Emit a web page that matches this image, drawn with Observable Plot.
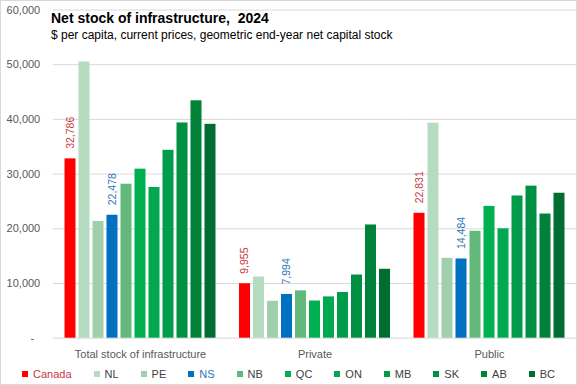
<!DOCTYPE html>
<html>
<head>
<meta charset="utf-8">
<script src="https://cdn.jsdelivr.net/npm/d3@7"></script>
<script src="https://cdn.jsdelivr.net/npm/@observablehq/plot@0.6"></script>
<style>
  html, body { margin: 0; padding: 0; background: #fff; }
  #wrap { position: relative; width: 577px; height: 385px; background: #fff; overflow: hidden; font-family: "Liberation Sans", Arial, sans-serif; }
  #chart { position: absolute; left: 0; top: 0; }
  #title { position: absolute; left: 51px; top: 10px; font: bold 14px "Liberation Sans", Arial, sans-serif; color: #000; white-space: nowrap; }
  #subtitle { position: absolute; left: 51px; top: 28px; font: 12px "Liberation Sans", Arial, sans-serif; color: #000; white-space: nowrap; }
  #legend { position: absolute; left: 22px; top: 368px; display: flex; gap: 22px; font: 11px "Liberation Sans", Arial, sans-serif; white-space: nowrap; }
  #legend .item { display: flex; align-items: center; }
  #legend .sw { width: 6px; height: 6px; margin-right: 5px; }
  #border { position: absolute; left: 0; top: 0; width: 575px; height: 383px; border: 1px solid #d9d9d9; pointer-events: none; }
</style>
</head>
<body>
<div id="wrap">
  <div id="chart"></div>
  <div id="title">Net stock of infrastructure,&nbsp; 2024</div>
  <div id="subtitle">$ per capita, current prices, geometric end-year net capital stock</div>
  <div id="legend"></div>
  <div id="border"></div>
</div>
<script>
const categories = ["Total stock of infrastructure", "Private", "Public"];
const regions = ["Canada", "NL", "PE", "NS", "NB", "QC", "ON", "MB", "SK", "AB", "BC"];
const totalValues   = [32786, 50500, 21350, 22478, 28150, 30900, 27550, 34350, 39350, 43400, 39100];
const privateValues = [9955, 11200, 6750, 7994, 8650, 6800, 7550, 8350, 11550, 20700, 12600];
const publicValues  = [22831, 39300, 14600, 14484, 19550, 24100, 20000, 26000, 27800, 22700, 26500];
const regionColors = ["#ff0000", "#b5dcc0", "#a0cfab", "#0070c0", "#63b87c", "#00b050", "#00a84f", "#009c49", "#009044", "#00823b", "#006d32"];
const labelColors  = ["#c8393c", "#404040", "#404040", "#2e75b6", "#404040", "#404040", "#404040", "#404040", "#404040", "#404040", "#404040"];
const labeledRegions = ["Canada", "NS"];
const yTicks = [0, 10000, 20000, 30000, 40000, 50000, 60000];

const seriesByCategory = [totalValues, privateValues, publicValues];
const data = [];
categories.forEach((cat, ci) => {
  regions.forEach((reg, ri) => {
    data.push({category: cat, region: reg, value: seriesByCategory[ci][ri]});
  });
});
const labelData = data.filter(d => labeledRegions.includes(d.region));
const labelColorOf = Object.fromEntries(regions.map((r, i) => [r, labelColors[i]]));

const fmt = d3.format(",");

const chart = Plot.plot({
  width: 577,
  height: 360,
  marginLeft: 52.75,
  marginRight: 0.75,
  marginTop: 9.5,
  marginBottom: 22.3,
  style: {fontFamily: "'Liberation Sans', Arial, sans-serif", fontSize: "11px", color: "#595959", background: "transparent"},
  fx: {domain: categories, padding: 0, label: null, axis: "bottom", tickSize: 0, tickPadding: 12, round: false},
  x: {domain: regions, axis: null, paddingInner: 0.214, paddingOuter: 0.839, round: false},
  y: {domain: [0, 60000], ticks: yTicks, tickSize: 0, tickPadding: 13, label: null,
      tickFormat: d => d === 0 ? "-\u00a0\u00a0" : fmt(d)},
  color: {domain: regions, range: regionColors},
  marks: [
    Plot.ruleY(yTicks, {stroke: "#d9d9d9", strokeWidth: 1}),
    Plot.barY(data, {fx: "category", x: "region", y: "value", fill: "region"}),
    Plot.text(labelData, {
      fx: "category", x: "region", y: "value",
      text: d => fmt(d.value),
      rotate: -90, textAnchor: "start", lineAnchor: "middle", dy: -10,
      fill: d => labelColorOf[d.region], fontSize: 10.5
    })
  ]
});
document.getElementById("chart").appendChild(chart);

const legend = document.getElementById("legend");
regions.forEach((r, i) => {
  const item = document.createElement("div");
  item.className = "item";
  const sw = document.createElement("span");
  sw.className = "sw";
  sw.style.background = regionColors[i];
  const tx = document.createElement("span");
  tx.textContent = r;
  tx.style.color = labelColors[i];
  item.appendChild(sw);
  item.appendChild(tx);
  legend.appendChild(item);
});
</script>
</body>
</html>
